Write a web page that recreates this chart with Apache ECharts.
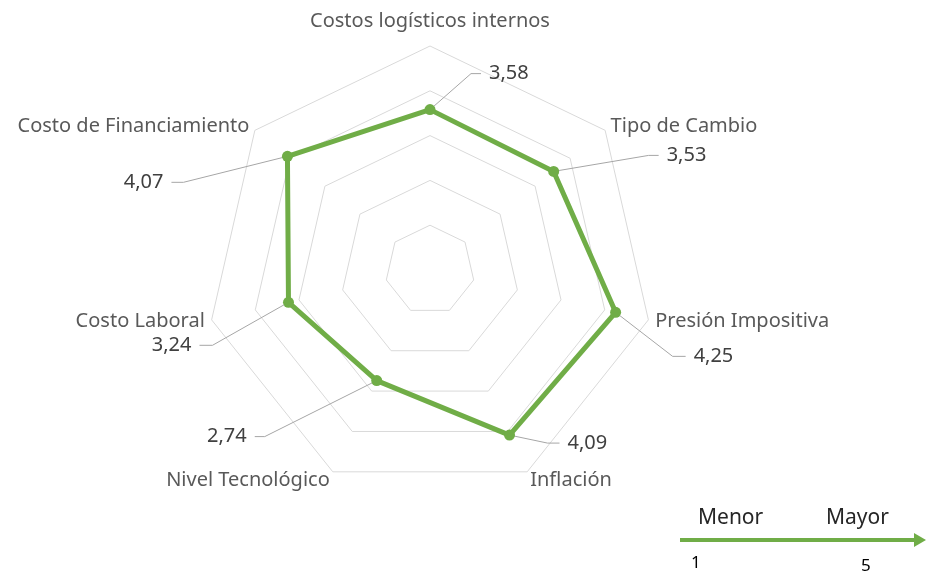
<!DOCTYPE html>
<html>
<head>
<meta charset="utf-8">
<script src="https://cdn.jsdelivr.net/npm/echarts@6/dist/echarts.min.js"></script>
<style>
html, body { margin: 0; padding: 0; background: #fff; }
#main { width: 926px; height: 575px; }
</style>
</head>
<body>
<div id="main"></div>
<script>
// factores, en sentido horario desde arriba (como en la imagen)
var factores = ['Costos logísticos internos', 'Tipo de Cambio', 'Presión Impositiva', 'Inflación',
                'Nivel Tecnológico', 'Costo Laboral', 'Costo de Financiamiento'];
var puntajes = [3.58, 3.53, 4.25, 4.09, 2.74, 3.24, 4.07];
var escala = ['Menor', 'Mayor'];
var escalaValores = [1, 5];

var verde = '#70ad47';
var fuente = 'Noto Sans';

// echarts recorre los indicadores en sentido antihorario
var orden = [0, 6, 5, 4, 3, 2, 1];

// posición de cada etiqueta de valor: codo de la línea guía, tramo horizontal
var guias = [
    { codo: [41, -36], tramo: 10 },
    { codo: [95, -16], tramo: 10 },
    { codo: [57, 44], tramo: 13 },
    { codo: [38, 8], tramo: 12 },
    { codo: [-112, 56], tramo: -10 },
    { codo: [-76, 43], tramo: -13 },
    { codo: [-104, 26], tramo: -12 }
];

var myChart = echarts.init(document.getElementById('main'));

myChart.setOption({
    animation: false,
    radar: {
        center: [430, 270],
        radius: 224,
        startAngle: 90,
        shape: 'polygon',
        splitNumber: 5,
        nameGap: 7,
        indicator: orden.map(function (i) { return { name: factores[i], min: 0, max: 5 }; }),
        axisName: {
            color: '#595959', fontSize: 20, fontFamily: fuente,
            formatter: function (name) {
                if (name === factores[0]) return '{arriba|' + name + '}';
                if (name === factores[3] || name === factores[4]) return '{abajo|' + name + '}';
                return name;
            },
            rich: {
                arriba: { color: '#595959', fontSize: 20, fontFamily: fuente, padding: [0, 0, 8, 0] },
                abajo: { color: '#595959', fontSize: 20, fontFamily: fuente, padding: [5, 0, 0, 0] }
            }
        },
        splitLine: { lineStyle: { color: '#d9d9d9', width: 1 } },
        splitArea: { show: false },
        axisLine: { show: false },
        axisTick: { show: false },
        axisLabel: { show: false }
    },
    series: [{
        type: 'radar',
        symbol: 'circle',
        symbolSize: 11,
        lineStyle: { color: verde, width: 5 },
        itemStyle: { color: verde },
        data: [{ value: orden.map(function (i) { return puntajes[i]; }) }]
    }]
});

// etiquetas de valor con línea guía, ubicadas con el sistema de coordenadas del radar
var radar = myChart.getModel().getComponent('radar').coordinateSystem;
var elementos = [];
puntajes.forEach(function (v, i) {
    var p = radar.dataToPoint(v, orden.indexOf(i));
    var g = guias[i];
    var codo = [p[0] + g.codo[0], p[1] + g.codo[1]];
    var fin = [codo[0] + g.tramo, codo[1]];
    elementos.push({
        type: 'polyline',
        shape: { points: [p, codo, fin] },
        style: { stroke: '#a6a6a6', lineWidth: 1, fill: null },
        z: 1
    });
    elementos.push({
        type: 'text',
        x: fin[0] + (g.tramo > 0 ? 8 : -8),
        y: fin[1],
        style: {
            text: v.toFixed(2).replace('.', ','),
            fill: '#404040',
            font: '20px "' + fuente + '"',
            align: g.tramo > 0 ? 'left' : 'right',
            verticalAlign: 'middle'
        }
    });
});

// escala de la esquina inferior derecha
elementos.push(
    { type: 'text', x: 698, y: 518, style: { text: escala[0], fill: '#262626', font: '21px "' + fuente + '"', verticalAlign: 'middle' } },
    { type: 'text', x: 826, y: 518, style: { text: escala[1], fill: '#262626', font: '21px "' + fuente + '"', verticalAlign: 'middle' } },
    { type: 'line', shape: { x1: 680, y1: 540, x2: 916, y2: 540 }, style: { stroke: verde, lineWidth: 4 } },
    { type: 'polygon', shape: { points: [[914, 533], [926, 540], [914, 547]] }, style: { fill: verde } },
    { type: 'text', x: 691, y: 563, style: { text: String(escalaValores[0]), fill: '#000', font: '17px "' + fuente + '"', verticalAlign: 'middle' } },
    { type: 'text', x: 861, y: 566, style: { text: String(escalaValores[1]), fill: '#000', font: '17px "' + fuente + '"', verticalAlign: 'middle' } }
);

myChart.setOption({ graphic: elementos });
</script>
</body>
</html>
